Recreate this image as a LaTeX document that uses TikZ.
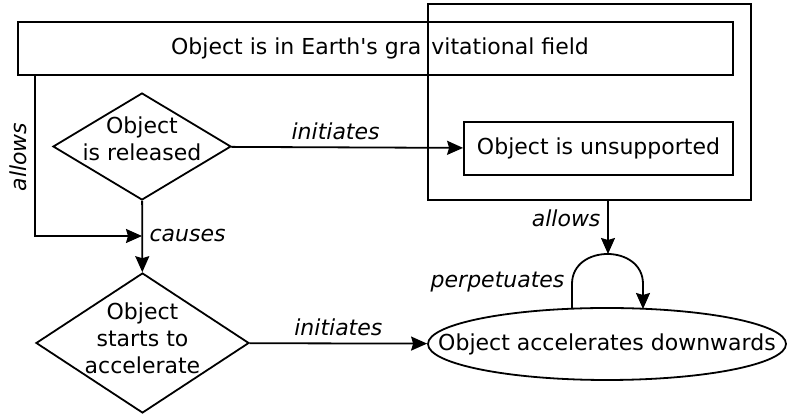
\documentclass[tikz,border=0pt]{standalone}
\usepackage{fontspec}
\setmainfont{DejaVu Sans}
\usetikzlibrary{shapes.geometric,arrows.meta}
\begin{document}
\begin{tikzpicture}[x=0.5pt,y=-0.5pt,>={Stealth[length=8pt,width=7pt,inset=1pt]},line width=0.9pt,
 every node/.style={font=\fontsize{11}{13.5}\selectfont},
 box/.style={draw,rectangle,inner sep=0pt},
 choice/.style={draw,diamond,inner sep=0pt},
 lbl/.style={font=\fontsize{11}{13.5}\selectfont\itshape}]
 \useasboundingbox (0,0) rectangle (787,415);
 \node[box,minimum width=357.5pt,minimum height=26.5pt] (grav) at (375.5,48.5) {};
 \node (gravtext) at (380,48.5) {Object is in Earth\textquotesingle s gra\kern5pt vitational field};
 \node[box,minimum width=161.5pt,minimum height=98pt] (frame) at (589.5,102) {};
 \node[box,minimum width=134.5pt,minimum height=26.5pt] (unsup) at (598.5,148.5) {Object is unsupported};
 \node[choice,minimum width=89pt,minimum height=53.5pt] (rel) at (142,146.5) {};
 \node[align=center] (reltext) at (142,139) {Object\\is released};
 \node[choice,minimum width=106.5pt,minimum height=70pt] (acc) at (142.5,343) {};
 \node[align=center] (acctext) at (142.5,338) {Object\\starts to\\accelerate};
 \node[draw,ellipse,inner sep=0pt,minimum width=179pt,minimum height=36pt] (down) at (607,344) {};
 \node (downtext) at (down) {Object accelerates downwards};
 \coordinate (bend) at (35,236);
 \coordinate (join) at (142,236);
 \coordinate (looptop) at (608,254);
 \coordinate (loopL) at (572,309);
 \coordinate (loopR) at (643,309);
 % connectors
 \draw[->] (grav.south -| bend) |- (join);
 \node[lbl,rotate=90] (allowsA) at (18,157) {allows};
 \draw[->] (rel) -- node[lbl,above,pos=0.45] (initA) {initiates} (unsup);
 \draw[->] (rel) -- (acc);
 \node[lbl,right] (causes) at (join) {causes};
 \draw[->] (acc) -- node[lbl,above] (initB) {initiates} (down);
 \draw[->] (frame.south -| looptop) -- node[lbl,left,pos=0.33] (allowsB) {allows} (looptop);
 \draw[->] (loopL) -- (572,284) .. controls (572,244) and (643,244) .. (643,284) -- (loopR);
 \node[lbl,left] (perp) at (572,282) {perpetuates};
\end{tikzpicture}
\end{document}
